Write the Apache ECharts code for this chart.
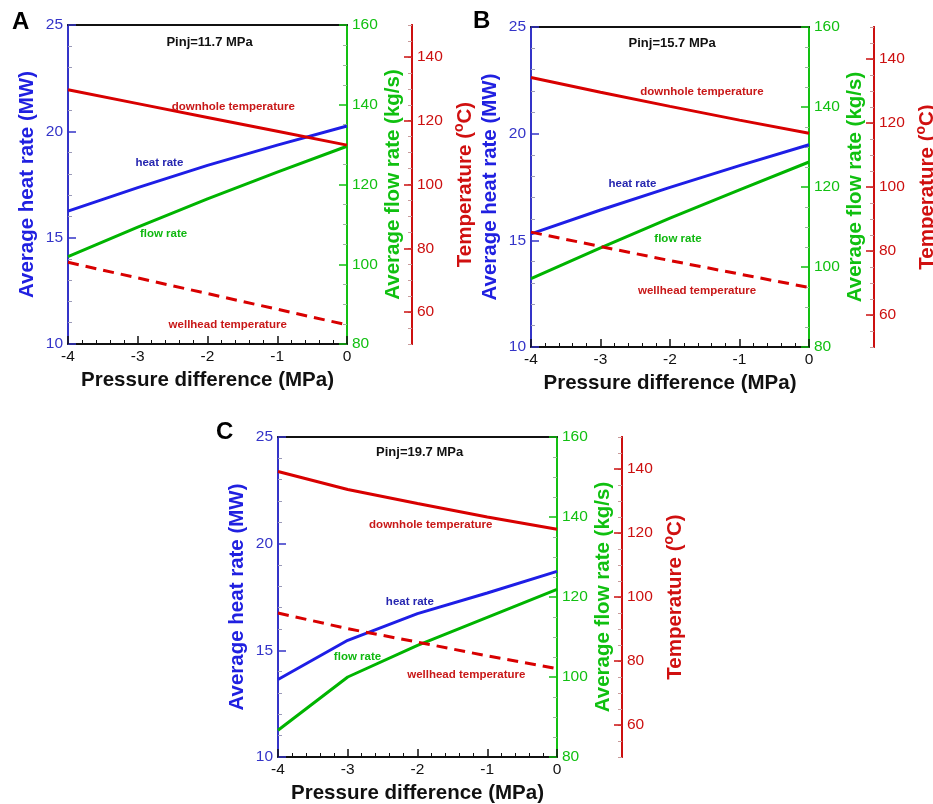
<!DOCTYPE html>
<html>
<head>
<meta charset="utf-8">
<script src="https://cdn.jsdelivr.net/npm/echarts@6/dist/echarts.min.js"></script>
<style>
  html, body { margin: 0; padding: 0; background: #fff; }
  #chart { width: 933px; height: 804px; }
</style>
</head>
<body>
<div id="chart"></div>
<script>
// Pressure difference (MPa) sampled at each integer step
const pressureDiff = [-4, -3, -2, -1, 0];

// Panel A: injection pressure 11.7 MPa
const heatRateA   = [16.25, 17.35, 18.4, 19.35, 20.25];
const flowRateA   = [101.9, 109.3, 116.4, 123.1, 129.6];
const downholeA   = [129.7, 125.35, 121.0, 116.7, 112.35];
const wellheadA   = [75.6, 70.7, 65.8, 60.9, 56.0];

// Panel B: injection pressure 15.7 MPa
const heatRateB   = [15.3, 16.42, 17.48, 18.5, 19.48];
const flowRateB   = [97.1, 104.8, 112.2, 119.3, 126.25];
const downholeB   = [134.2, 129.6, 125.2, 120.9, 116.8];
const wellheadB   = [85.9, 81.4, 77.0, 72.8, 68.6];

// Panel C: injection pressure 19.7 MPa
const heatRateC   = [13.63, 15.47, 16.72, 17.69, 18.7];
const flowRateC   = [86.7, 100.0, 107.9, 114.9, 121.9];
const downholeC   = [139.2, 133.6, 129.2, 125.0, 121.2];
const wellheadC   = [95.0, 90.1, 85.9, 81.6, 77.6];

// Panel titles and axis tick labels
const panelLetters = ['A', 'B', 'C'];
const injPressures = ['Pinj=11.7 MPa', 'Pinj=15.7 MPa', 'Pinj=19.7 MPa'];
const tempTickValues = [60, 80, 100, 120, 140];

const FONT = '"Liberation Sans", Arial, Helvetica, sans-serif';
const BLUE_AXIS = '#3434c8';
const BLUE_LINE = '#1e1ee6';
const GREEN_AXIS = '#12c012';
const GREEN_LINE = '#00b400';
const RED_AXIS = '#cc1010';
const RED_LINE = '#d80000';

const panels = [
  { heat: heatRateA, flow: flowRateA, down: downholeA, well: wellheadA,
    grid: { left: 68, top: 25, width: 279, height: 319 },
    notes: { pinj: [-1.97, 24.2], down: [-1.63, 21.15], heat: [-2.69, 18.54], flow: [-2.63, 15.17], well: [-1.71, 10.9] } },
  { heat: heatRateB, flow: flowRateB, down: downholeB, well: wellheadB,
    grid: { left: 531, top: 27, width: 278, height: 320 },
    notes: { pinj: [-1.97, 24.25], down: [-1.54, 21.95], heat: [-2.54, 17.66], flow: [-1.885, 15.08], well: [-1.61, 12.61] } },
  { heat: heatRateC, flow: flowRateC, down: downholeC, well: wellheadC,
    grid: { left: 278, top: 437, width: 279, height: 320 },
    notes: { pinj: [-1.97, 24.27], down: [-1.81, 20.86], heat: [-2.11, 17.26], flow: [-2.86, 14.69], well: [-1.30, 13.86] } }
];

const pair = (ys) => pressureDiff.map((x, i) => [x, ys[i]]);

const grids = [], xAxes = [], yAxes = [], series = [], graphics = [];

panels.forEach((p, i) => {
  // fixed plot boxes: axis names may reach the canvas edge without shrinking the grid
  grids.push(Object.assign({ containLabel: false, outerBoundsMode: 'none' }, p.grid));

  // bottom pressure axis
  xAxes.push({
    gridIndex: i, type: 'value', position: 'bottom', min: -4, max: 0, interval: 1,
    name: 'Pressure difference (MPa)', nameLocation: 'middle', nameGap: 26,
    nameTextStyle: { fontFamily: FONT, fontSize: 20.5, fontWeight: 'bold', color: '#111' },
    axisLine: { onZero: false, lineStyle: { color: '#111', width: 2 } },
    axisTick: { inside: true, length: 8, lineStyle: { color: '#111', width: 1.5 } },
    minorTick: { show: true, splitNumber: 5, length: 4, lineStyle: { color: '#111', width: 1 } },
    axisLabel: { margin: 5, fontFamily: FONT, fontSize: 15.5, color: '#111' },
    splitLine: { show: false }
  });
  // top frame line
  xAxes.push({
    gridIndex: i, type: 'value', position: 'top', min: -4, max: 0, interval: 1,
    axisLine: { onZero: false, lineStyle: { color: '#111', width: 2 } },
    axisTick: { show: false }, axisLabel: { show: false }, splitLine: { show: false }
  });

  // heat rate axis (left)
  yAxes.push({
    gridIndex: i, type: 'value', position: 'left', min: 10, max: 25, interval: 5,
    name: 'Average heat rate (MW)', nameLocation: 'middle', nameGap: 30,
    nameTextStyle: { fontFamily: FONT, fontSize: 20.5, fontWeight: 'bold', color: '#2020e0' },
    axisLine: { onZero: false, lineStyle: { color: BLUE_AXIS, width: 2 } },
    axisTick: { inside: true, length: 8, lineStyle: { color: BLUE_AXIS, width: 1.5 } },
    minorTick: { show: true, splitNumber: 5, length: 4, lineStyle: { color: '#9a9ab8', width: 1 } },
    axisLabel: { margin: 5, fontFamily: FONT, fontSize: 15.5, color: BLUE_AXIS },
    splitLine: { show: false }
  });
  // flow rate axis (right)
  yAxes.push({
    gridIndex: i, type: 'value', position: 'right', min: 80, max: 160, interval: 20,
    name: 'Average flow rate (kg/s)', nameLocation: 'middle', nameGap: 36,
    nameTextStyle: { fontFamily: FONT, fontSize: 20.5, fontWeight: 'bold', color: '#10c010' },
    axisLine: { onZero: false, lineStyle: { color: GREEN_AXIS, width: 2 } },
    axisTick: { inside: true, length: 8, lineStyle: { color: GREEN_AXIS, width: 1.5 } },
    minorTick: { show: true, splitNumber: 4, length: 4, lineStyle: { color: '#9ab89a', width: 1 } },
    axisLabel: { margin: 5, fontFamily: FONT, fontSize: 15.5, color: GREEN_AXIS },
    splitLine: { show: false }
  });
  // temperature axis: fine ticks every 5 degrees
  yAxes.push({
    gridIndex: i, type: 'value', position: 'right', offset: 65, min: 50, max: 150, interval: 5,
    axisLine: { onZero: false, lineStyle: { color: RED_AXIS, width: 2 } },
    axisTick: { inside: true, length: 4, lineStyle: { color: '#c89a9a', width: 1 } },
    axisLabel: { show: false }, splitLine: { show: false }
  });
  // temperature axis: labelled ticks
  yAxes.push({
    gridIndex: i, type: 'value', position: 'right', offset: 65, min: 50, max: 150,
    name: '{t|Temperature (}{s|o}{t|C)}', nameLocation: 'middle', nameGap: 40,
    nameTextStyle: {
      rich: {
        t: { fontFamily: FONT, fontSize: 20.5, fontWeight: 'bold', color: '#d01010', lineHeight: 26 },
        s: { fontFamily: FONT, fontSize: 14, fontWeight: 'bold', color: '#d01010', lineHeight: 14, verticalAlign: 'top' }
      }
    },
    axisLine: { show: true, onZero: false, lineStyle: { color: RED_AXIS, width: 2 } },
    axisTick: { show: true, inside: true, length: 8, customValues: tempTickValues, lineStyle: { color: RED_AXIS, width: 1.5 } },
    axisLabel: { margin: 5, fontFamily: FONT, fontSize: 15.5, color: RED_AXIS, customValues: tempTickValues },
    splitLine: { show: false }
  });

  const xi = 2 * i, yb = 4 * i;
  const note = (text, coord, color, size) => ({
    coord, symbol: 'rect', symbolSize: 1, itemStyle: { color: 'rgba(0,0,0,0)' },
    label: { show: true, position: 'inside', formatter: text, fontFamily: FONT, fontWeight: 'bold', fontSize: size, color }
  });

  series.push({
    type: 'line', name: 'heat rate', xAxisIndex: xi, yAxisIndex: yb, data: pair(p.heat),
    showSymbol: false, lineStyle: { color: BLUE_LINE, width: 3 }, z: 3,
    markPoint: {
      silent: true, animation: false,
      data: [
        note(injPressures[i], p.notes.pinj, '#111', 13),
        note('downhole temperature', p.notes.down, '#c81818', 11.5),
        note('heat rate', p.notes.heat, '#2626b0', 11.5),
        note('flow rate', p.notes.flow, '#10b810', 11.5),
        note('wellhead temperature', p.notes.well, '#c81818', 11.5)
      ]
    }
  });
  series.push({
    type: 'line', name: 'flow rate', xAxisIndex: xi, yAxisIndex: yb + 1, data: pair(p.flow),
    showSymbol: false, lineStyle: { color: GREEN_LINE, width: 3 }, z: 3
  });
  series.push({
    type: 'line', name: 'downhole temperature', xAxisIndex: xi, yAxisIndex: yb + 3, data: pair(p.down),
    showSymbol: false, lineStyle: { color: RED_LINE, width: 3 }, z: 3
  });
  series.push({
    type: 'line', name: 'wellhead temperature', xAxisIndex: xi, yAxisIndex: yb + 3, data: pair(p.well),
    showSymbol: false, lineStyle: { color: RED_LINE, width: 3, type: [11, 7] }, z: 3
  });
});

// panel letters
const letterPos = [[12, 10], [473, 9], [216, 420]];
panelLetters.forEach((l, i) => {
  graphics.push({
    type: 'text', left: letterPos[i][0], top: letterPos[i][1],
    style: { text: l, fontFamily: FONT, fontSize: 24, fontWeight: 'bold', fill: '#000' }
  });
});

const chart = echarts.init(document.getElementById('chart'), null, { renderer: 'canvas' });
chart.setOption({
  animation: false,
  backgroundColor: '#fff',
  grid: grids,
  xAxis: xAxes,
  yAxis: yAxes,
  series: series,
  graphic: graphics
});
</script>
</body>
</html>
